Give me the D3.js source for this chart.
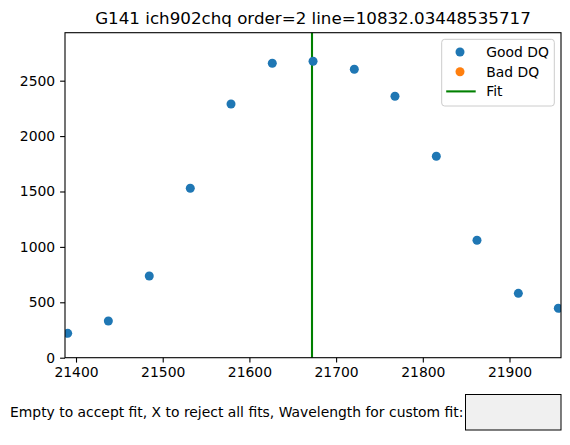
<!DOCTYPE html>
<html>
<head>
<meta charset="utf-8">
<script src="https://cdn.jsdelivr.net/npm/d3@7"></script>
<style>
  body { margin: 0; background: #fff; }
  svg { font-family: "DejaVu Sans", sans-serif; }
</style>
</head>
<body>
<script>
// wavelength of each pixel and its flux
var waves = [21390.4, 21437.3, 21484.5, 21531.8, 21578.8, 21626.4, 21673.4,
             21721.0, 21767.9, 21815.6, 21862.5, 21910.2, 21956.3];
var flux = [220, 331, 737, 1529, 2290, 2657, 2675, 2603, 2359, 1818, 1060, 581, 446];
var badWaves = [];
var badFlux = [];
var fitWave = 21672.2;
var xTicks = [21400, 21500, 21600, 21700, 21800, 21900];
var yTicks = [0, 500, 1000, 1500, 2000, 2500];
var legendKeys = ["Good DQ", "Bad DQ", "Fit"];

var margin = {top: 32.7, right: 9, bottom: 87.3, left: 65},
    width = 570 - margin.left - margin.right,
    height = 445 - margin.top - margin.bottom;

var svg = d3.select("body")
    .append("svg")
        .attr("width", 570)
        .attr("height", 445);

var chart = svg.append("g")
    .attr("transform", "translate(" + margin.left + "," + margin.top + ")");

var x = d3.scaleLinear()
    .domain([21387.3, 21959.4])
    .range([0, width]);

var y = d3.scaleLinear()
    .domain([0, 2933])
    .range([height, 0]);

var xAxis = chart.append("g")
    .attr("transform", "translate(0," + height + ")")
    .call(d3.axisBottom(x).tickValues(xTicks).tickSize(4.9).tickPadding(4.9).tickFormat(d3.format("d")));

var yAxis = chart.append("g")
    .call(d3.axisLeft(y).tickValues(yTicks).tickSize(4.9).tickPadding(4.9).tickFormat(d3.format("d")));

[xAxis, yAxis].forEach(function(a) {
    a.select(".domain").remove();
    a.selectAll("line").attr("stroke", "#000").attr("stroke-width", 1.1);
    a.selectAll("text")
        .style("font-family", "DejaVu Sans")
        .style("font-size", "13.9px")
        .attr("fill", "#000");
});

// fit line
chart.append("line")
    .attr("x1", x(fitWave))
    .attr("x2", x(fitWave))
    .attr("y1", 0)
    .attr("y2", height)
    .attr("stroke", "#008000")
    .attr("stroke-width", 2.1);

var pts = waves.map(function(w, i) { return {w: w, f: flux[i]}; });
var bad = badWaves.map(function(w, i) { return {w: w, f: badFlux[i]}; });

chart.append("defs").append("clipPath").attr("id", "clip")
    .append("rect").attr("width", width).attr("height", height);

var dots = chart.append("g").attr("clip-path", "url(#clip)");

dots.selectAll(".good")
    .data(pts)
    .enter()
    .append("circle")
        .attr("class", "good")
        .attr("cx", function(d) { return x(d.w); })
        .attr("cy", function(d) { return y(d.f); })
        .attr("r", 4.5)
        .style("fill", "#1f77b4");

dots.selectAll(".bad")
    .data(bad)
    .enter()
    .append("circle")
        .attr("class", "bad")
        .attr("cx", function(d) { return x(d.w); })
        .attr("cy", function(d) { return y(d.f); })
        .attr("r", 4.5)
        .style("fill", "#ff7f0e");

// frame
chart.append("rect")
    .attr("width", width)
    .attr("height", height)
    .attr("fill", "none")
    .attr("stroke", "#000")
    .attr("stroke-width", 1.1);

// title
svg.append("text")
    .attr("x", margin.left + width / 2)
    .attr("y", 24)
    .attr("text-anchor", "middle")
    .style("font-size", "16.7px")
    .text("G141 ich902chq order=2 line=10832.03448535717");

// legend
var legend = svg.append("g").attr("transform", "translate(441.7,39.3)");
legend.append("rect")
    .attr("width", 112.6)
    .attr("height", 66.7)
    .attr("rx", 3)
    .attr("fill", "#fff")
    .attr("fill-opacity", 0.8)
    .attr("stroke", "#cccccc")
    .attr("stroke-width", 1);

var legColor = ["#1f77b4", "#ff7f0e", "#008000"];
legendKeys.forEach(function(k, i) {
    var ly = 12.7 + i * 19.7;
    if (k === "Fit") {
        legend.append("line")
            .attr("x1", 4.5).attr("x2", 34)
            .attr("y1", ly).attr("y2", ly)
            .attr("stroke", legColor[i])
            .attr("stroke-width", 2.1);
    } else {
        legend.append("circle")
            .attr("cx", 18.3)
            .attr("cy", ly)
            .attr("r", 4.5)
            .style("fill", legColor[i]);
    }
    legend.append("text")
        .attr("x", 44.5)
        .attr("y", ly)
        .attr("dy", "0.36em")
        .style("font-size", "13.9px")
        .text(k);
});

// text box prompt
svg.append("text")
    .attr("x", 10)
    .attr("y", 412)
    .attr("dy", "0.36em")
    .style("font-size", "13.9px")
    .text("Empty to accept fit, X to reject all fits, Wavelength for custom fit:");

svg.append("rect")
    .attr("x", 465.5)
    .attr("y", 394.5)
    .attr("width", 95.5)
    .attr("height", 35.5)
    .attr("fill", "#f0f0f0")
    .attr("stroke", "#000")
    .attr("stroke-width", 1);
</script>
</body>
</html>
